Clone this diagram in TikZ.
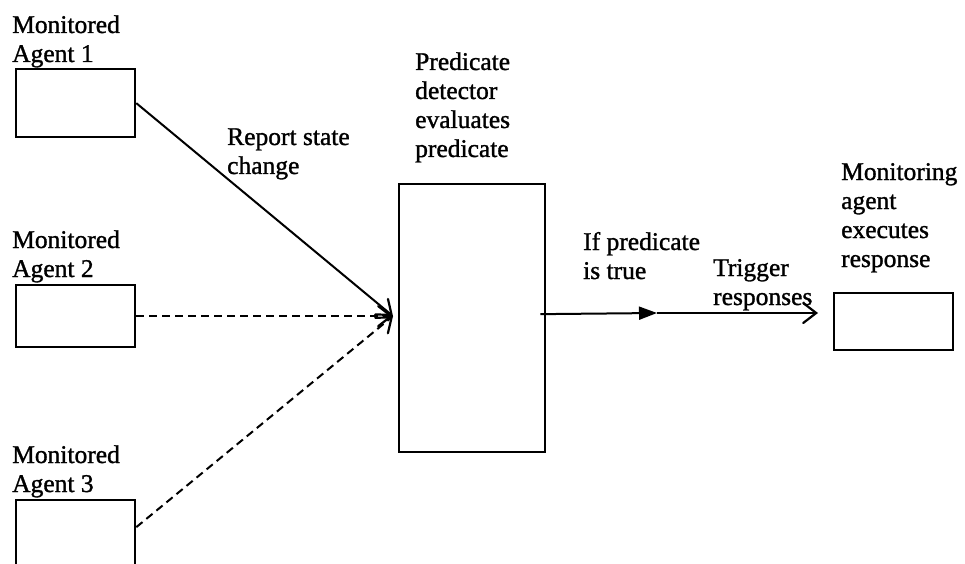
\documentclass[tikz,border=0pt]{standalone}
\usepackage{fontspec}
\setmainfont{Liberation Serif}[FakeBold=1.2]
\usetikzlibrary{arrows.meta}
\begin{document}
\begin{tikzpicture}[x=1pt,y=-1pt,
  agentbox/.style={draw, line width=2.3pt, minimum width=119pt, inner sep=0pt, anchor=north west},
  lbl/.style={anchor=base west, align=left, inner sep=0pt, font=\fontsize{25.5}{29}\selectfont},
  link/.style={line width=2pt},
  dashlink/.style={link, dash pattern=on 8pt off 5pt},
  openhead/.style={-{Straight Barb[length=13pt,width=20pt,line width=2.2pt,line cap=round]}},
  solidhead/.style={-{Triangle[length=18pt,width=13pt]}}
]
\useasboundingbox (0,0) rectangle (965,564);

% monitored agents
\node[agentbox, minimum height=68pt] (a1) at (15,68) {};
\node[agentbox, minimum height=62pt] (a2) at (15,284) {};
\node[agentbox, minimum height=68pt] (a3) at (15,499) {};

% predicate detector and monitoring agent
\node[agentbox, minimum width=146pt, minimum height=268pt] (det) at (398,183) {};
\node[agentbox, minimum height=57pt] (mon) at (833,292) {};

% labels (placed by the baseline of their last line)
\node[lbl] (l1) at (12,62) {Monitored\\Agent 1};
\node[lbl] (l2) at (12,277) {Monitored\\Agent 2};
\node[lbl] (l3) at (12,492) {Monitored\\Agent 3};
\node[lbl] (lrep) at (227,174) {Report state\\change};
\node[lbl] (ldet) at (415,157) {Predicate\\detector\\evaluates\\predicate};
\node[lbl] (lif) at (583,279) {If predicate\\is true};
\node[lbl] (ltrig) at (713,305) {Trigger\\responses};
\node[lbl] (lmon) at (841,267) {Monitoring\\agent\\executes\\response};

% connectors
\coordinate (hub) at ([xshift=-5pt,yshift=2pt]det.west);
\coordinate (src) at ([xshift=-6pt,yshift=4pt]det.east);
\coordinate (mid) at (657,313);

\draw[link, openhead] (a1.east) -- (hub);
\draw[dashlink, openhead] (a2.east) -- (hub);
\draw[dashlink, openhead] ([yshift=7pt]a3.east) -- (hub);

\draw[link, solidhead] (src) -- (mid);
\draw[link, openhead, shorten >=15pt] (mid) -- (mid -| mon.west);
\end{tikzpicture}
\end{document}
